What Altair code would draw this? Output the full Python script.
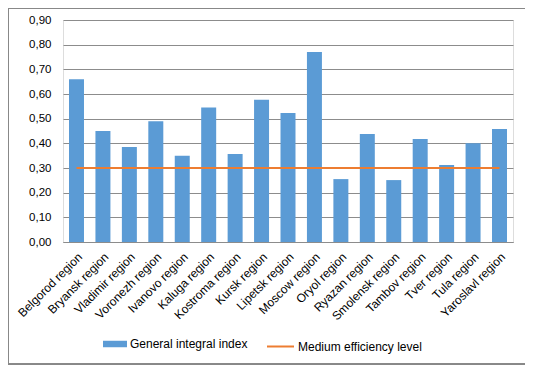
import altair as alt
import pandas as pd

regions = ["Belgorod region", "Bryansk region", "Vladimir region", "Voronezh region",
           "Ivanovo region", "Kaluga region", "Kostroma region", "Kursk region",
           "Lipetsk region", "Moscow region", "Oryol region", "Ryazan region",
           "Smolensk region", "Tambov region", "Tver region", "Tula region",
           "Yaroslavl region"]
integral_index = [0.66, 0.45, 0.385, 0.49, 0.35, 0.545, 0.357, 0.577,
                  0.523, 0.77, 0.255, 0.438, 0.251, 0.418, 0.312, 0.40, 0.458]
medium_level = [0.30] * 17
y_ticks = [0.0, 0.1, 0.2, 0.3, 0.4, 0.5, 0.6, 0.7, 0.8, 0.9]

bar_name = "General integral index"
line_name = "Medium efficiency level"

df = pd.DataFrame({
    "region": regions,
    "value": integral_index,
    "level": medium_level,
    "s1": [bar_name] * len(regions),
    "s2": [line_name] * len(regions),
})

W, H = 450, 222
FONT = "Liberation Sans"
GRID = "#8c8c8c"
yscale = alt.Scale(domain=[0, 0.9], nice=False)
xscale = alt.Scale(paddingInner=0.433, paddingOuter=0.227)

xaxis = alt.Axis(labelAngle=-45, labelFontSize=12, labelFont=FONT,
                 labelColor="#000", ticks=False, domainColor=GRID,
                 labelPadding=9, labelOverlap=False)
yaxis = alt.Axis(values=y_ticks, ticks=False, domain=False,
                 gridColor=GRID, gridWidth=1, labelFontSize=11.5,
                 labelFont=FONT, labelColor="#000", labelPadding=12,
                 labelOverlap=False,
                 labelExpr="replace(format(datum.value, '.2f'), '.', ',')")

bars = alt.Chart(df).mark_bar(color="#5B9BD5").encode(
    x=alt.X("region:N", sort=None, title=None, scale=xscale, axis=xaxis),
    y=alt.Y("value:Q", title=None, scale=yscale, axis=yaxis),
    color=alt.Color("s1:N", scale=alt.Scale(domain=[bar_name], range=["#5B9BD5"]),
                    legend=alt.Legend(title=None, orient="none", legendX=40, legendY=312,
                                      symbolType="M-1,-0.27H1V0.27H-1Z", symbolSize=576,
                                      symbolStrokeWidth=0, symbolOpacity=1,
                                      labelFontSize=12, labelFont=FONT, labelColor="#000",
                                      labelOffset=3)),
)

line = alt.Chart(df).mark_line(strokeWidth=2.2).encode(
    x=alt.X("region:N", sort=None, title=None, scale=xscale, axis=xaxis),
    y=alt.Y("level:Q", title=None, scale=yscale, axis=yaxis),
    stroke=alt.Stroke("s2:N", scale=alt.Scale(domain=[line_name], range=["#ED7D31"]),
                      legend=alt.Legend(title=None, orient="none", legendX=203, legendY=312,
                                        symbolType="stroke", symbolSize=729,
                                        symbolStrokeWidth=2,
                                        labelFontSize=12, labelFont=FONT, labelColor="#000",
                                        labelOffset=3)),
)

border = alt.Chart(df).mark_rect(fillOpacity=0, stroke="#888888", strokeWidth=1).encode(
    x=alt.value(-54.5), x2=alt.value(464), y=alt.value(-11.5), y2=alt.value(344)
)

chart = alt.layer(bars, line, border).properties(
    width=W, height=H,
    padding={"left": 55, "top": 12, "right": 12, "bottom": 130},
    autosize=alt.AutoSizeParams(type="none"),
).configure_view(stroke=None).configure(background="white")

chart.save("out.html", embed_options={"renderer": "svg", "actions": False})
